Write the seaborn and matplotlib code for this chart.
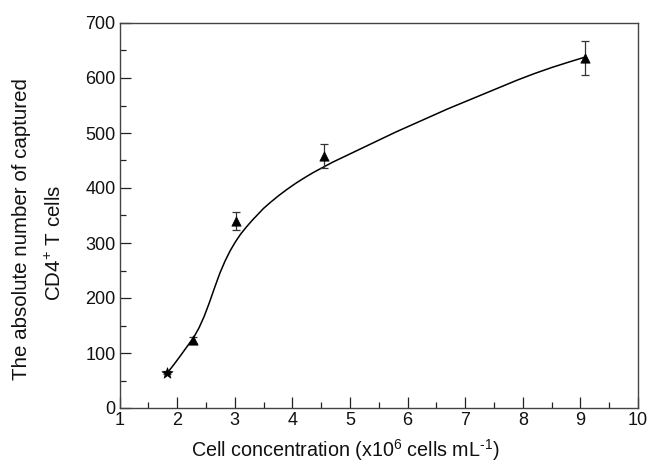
import matplotlib
matplotlib.use("Agg")
import matplotlib.pyplot as plt
import seaborn as sns
import pandas as pd
from matplotlib.ticker import MultipleLocator

# measured data
conc = [1.82, 2.28, 3.02, 4.55, 9.08]
counts = [64, 124, 340, 458, 637]
errors = [3, 5, 17, 22, 31]
markers = ["*", "^", "^", "^", "^"]

# fitted curve
curve_x = [1.83, 1.95, 2.07, 2.18, 2.29, 2.38, 2.47, 2.56, 2.65, 2.74, 2.83, 2.92,
           3.01, 3.1, 3.2, 3.3, 3.4, 3.5, 3.62, 3.76, 3.9, 4.05, 4.2, 4.36, 4.52,
           4.7, 4.9, 5.2, 5.5, 5.8, 6.1, 6.4, 6.7, 7.0, 7.3, 7.6, 7.9, 8.2, 8.5,
           8.8, 9.08]
curve_y = [64, 80, 97, 113, 129, 146, 167, 192, 219, 245, 267, 286,
           302, 316, 329, 341, 352, 363, 374, 386, 397, 408, 418, 428, 437,
           447, 457, 472, 487, 502, 516, 530, 544, 557, 570, 583, 596, 608, 619,
           629, 638]

x_ticks = [1, 2, 3, 4, 5, 6, 7, 8, 9, 10]
y_ticks = [0, 100, 200, 300, 400, 500, 600, 700]
xlabel = r"Cell concentration (x10$^{6}$ cells mL$^{\text{-1}}$)"
ylabel_lines = ["The absolute number of captured", "CD4$^{+}$ T cells"]

sns.set_theme(style="white")
plt.rcParams["font.family"] = ["Liberation Sans", "DejaVu Sans"]
plt.rcParams["mathtext.fontset"] = "custom"
plt.rcParams["mathtext.rm"] = "Liberation Sans"

W, H = 649, 466
fig = plt.figure(figsize=(W / 100, H / 100), dpi=100)
ax = fig.add_axes([119.6 / W, 1 - 408 / H, (638 - 119.6) / W, (408 - 23) / H])

curve_df = pd.DataFrame({"x": curve_x, "y": curve_y})
sns.lineplot(data=curve_df, x="x", y="y", ax=ax, color="black", linewidth=1.1,
             estimator=None, sort=False)

ax.errorbar(conc, counts, yerr=errors, fmt="none", ecolor="#333333",
            elinewidth=0.9, capsize=3, capthick=0.9, zorder=3)

pts = pd.DataFrame({"x": conc, "y": counts, "m": markers})
for mk in ["*", "^"]:
    sub = pts[pts["m"] == mk]
    sns.scatterplot(data=sub, x="x", y="y", ax=ax, marker=mk, color="black",
                    s=70 if mk == "*" else 45, edgecolor="black", linewidth=0.5,
                    zorder=4, legend=False)

ax.set_xlim(1, 10)
ax.set_ylim(0, 700)
ax.set_xticks(x_ticks)
ax.set_yticks(y_ticks)
ax.xaxis.set_minor_locator(MultipleLocator(0.5))
ax.yaxis.set_minor_locator(MultipleLocator(50))
ax.tick_params(which="both", direction="in", top=False, right=False,
               bottom=True, left=True, colors="#222222", labelcolor="#111111")
ax.tick_params(which="major", length=8, width=0.9, labelsize=13, pad=3)
ax.tick_params(which="minor", length=4.5, width=0.9)

for sp in ax.spines.values():
    sp.set_color("#444444")
    sp.set_linewidth(1.0)

ax.set_xlabel("")
ax.set_ylabel("")

fig.text(345 / W, 1 - 450 / H, xlabel, fontsize=14.2, ha="center", va="center",
         color="#111111")
fig.text(22 / W, 1 - 229 / H, ylabel_lines[0], fontsize=14.8, rotation=90,
         ha="center", va="center", color="#111111")
fig.text(55 / W, 1 - 243 / H, ylabel_lines[1], fontsize=14.8, rotation=90,
         ha="center", va="center", color="#111111")

fig.savefig("out.png", dpi=100)
